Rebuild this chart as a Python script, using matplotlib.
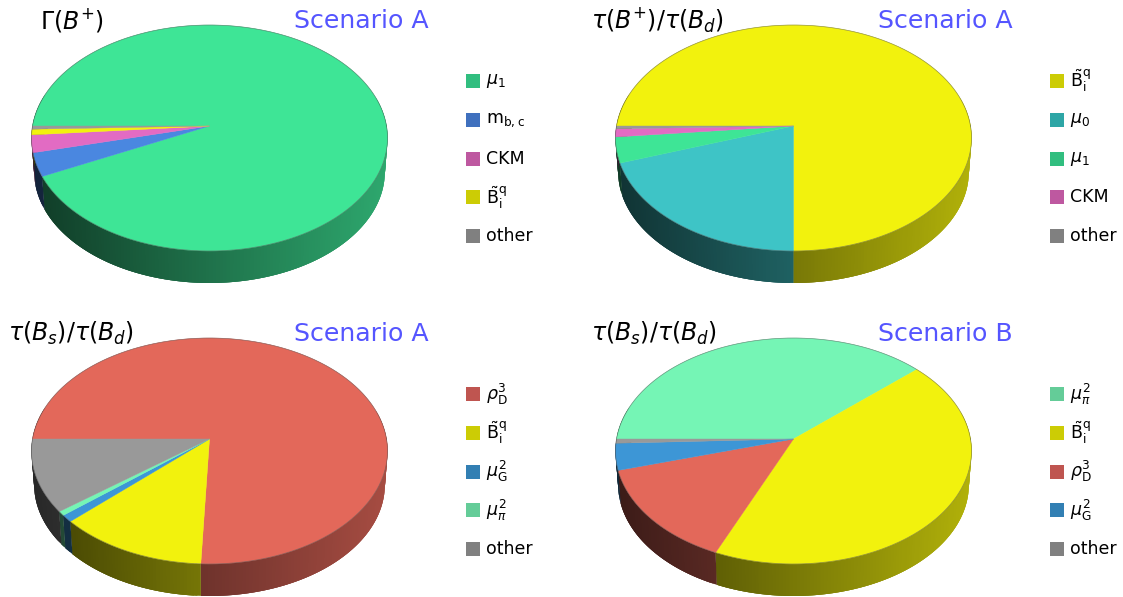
import numpy as np
import matplotlib.pyplot as plt
from matplotlib.patches import Polygon, Rectangle

plt.rcParams['mathtext.fontset'] = 'dejavusans'
plt.rcParams['font.family'] = 'DejaVu Sans'

# shares in percent, clockwise from 9 o'clock, same order as the legend
labels_a = [r'$\mu_1$', r'$\mathrm{m}_{\mathrm{b,c}}$', 'CKM', r'$\tilde{\mathrm{B}}_{\mathrm{i}}^{\mathrm{q}}$', 'other']
values_a = [92.9, 3.35, 2.5, 0.8, 0.45]
labels_b = [r'$\tilde{\mathrm{B}}_{\mathrm{i}}^{\mathrm{q}}$', r'$\mu_0$', r'$\mu_1$', 'CKM', 'other']
values_b = [75.0, 19.8, 3.65, 1.15, 0.4]
labels_c = [r'$\rho_{\mathrm{D}}^{3}$', r'$\tilde{\mathrm{B}}_{\mathrm{i}}^{\mathrm{q}}$', r'$\mu_{\mathrm{G}}^{2}$', r'$\mu_{\pi}^{2}$', 'other']
values_c = [75.7, 12.3, 1.0, 0.6, 10.4]
labels_d = [r'$\mu_{\pi}^{2}$', r'$\tilde{\mathrm{B}}_{\mathrm{i}}^{\mathrm{q}}$', r'$\rho_{\mathrm{D}}^{3}$', r'$\mu_{\mathrm{G}}^{2}$', 'other']
values_d = [38.4, 43.1, 14.1, 3.8, 0.6]

titles = [r'$\Gamma(B^{+})$', r'$\tau(B^{+})/\tau(B_d)$', r'$\tau(B_s)/\tau(B_d)$', r'$\tau(B_s)/\tau(B_d)$']
scenarios = ['Scenario A', 'Scenario A', 'Scenario A', 'Scenario B']

# top face colour, legend swatch colour
GREEN = ('#3EE596', '#31BE7F')
BLUE = ('#4A87E0', '#3F70BE')
PINK = ('#E26BC3', '#BE58A0')
YELLOW = ('#F2F20D', '#CCCC05')
GREY = ('#999999', '#808080')
TEAL = ('#3EC4C6', '#2EA6A6')
RED = ('#E3685A', '#BF5550')
MINT = ('#75F5B5', '#64CC98')
SKY = ('#3D96D6', '#327FB3')

colors_a = [GREEN, BLUE, PINK, YELLOW, GREY]
colors_b = [YELLOW, TEAL, GREEN, PINK, GREY]
colors_c = [RED, YELLOW, SKY, MINT, GREY]
colors_d = [MINT, YELLOW, RED, SKY, GREY]

# perspective of the disc, in pixels
A, B, K = 177.0, 111.7, 0.1062
DEPTH = 33.7
SHRINK = 0.985
CENTER_DROP = 12.0


def project(theta):
    u, v = np.cos(theta), np.sin(theta)
    return A * u / (1 + K * v), B * v / (1 + K * v)


def shade(color, t):
    rgb = np.array(plt.matplotlib.colors.to_rgb(color))
    return rgb * (0.26 + 0.47 * t)


def draw_pie(ax, cx, cy, values, colors):
    fracs = np.array(values) / sum(values)
    edges = np.pi - 2 * np.pi * np.concatenate([[0], np.cumsum(fracs)])
    for i, (col, _) in enumerate(colors):
        theta = np.linspace(edges[i], edges[i + 1], max(int(fracs[i] * 360), 4))
        x, y = project(theta)
        xw = cx + x
        yw = cy - y
        xb = cx + x * SHRINK
        yb = cy + CENTER_DROP + (-y - CENTER_DROP) * SHRINK + DEPTH
        # side wall, only the part facing the viewer; bands overlap the next ones
        for j in range(len(theta) - 1):
            if np.sin(theta[j]) > 0.25 and np.sin(theta[j + 1]) > 0.25:
                continue
            k = min(j + 4, len(theta))
            c = shade(col, (xw[j] - (cx - A)) / (2 * A))
            band = np.column_stack([np.r_[xw[j:k], xb[j:k][::-1]], np.r_[yw[j:k], yb[j:k][::-1]]])
            ax.add_patch(Polygon(band, closed=True, fc=c, ec='none', zorder=2))
    for i, (col, _) in enumerate(colors):
        theta = np.linspace(edges[i], edges[i + 1], max(int(fracs[i] * 720), 3))
        x, y = project(theta)
        pts = np.column_stack([np.r_[cx, cx + x], np.r_[cy, cy - y]])
        ax.add_patch(Polygon(pts, closed=True, fc=col, ec=col, lw=0.3, zorder=3))
    theta = np.linspace(0, 2 * np.pi, 721)
    x, y = project(theta)
    ax.plot(cx + x, cy - y, color='#555555', lw=0.5, alpha=0.6, zorder=4)


def draw_legend(ax, x0, y0, labels, colors):
    for i, lab in enumerate(labels):
        yc = y0 + i * 38.8
        ax.add_patch(Rectangle((x0, yc - 7), 14, 14, fc=colors[i][1], ec='none', zorder=3))
        ax.text(x0 + 20, yc, lab, fontsize=12.5, va='center', ha='left', color='black')


fig = plt.figure(figsize=(11.23, 5.97), dpi=100)
ax = fig.add_axes([0, 0, 1, 1])
ax.set_xlim(0, 1123)
ax.set_ylim(597, 0)
ax.axis('off')

panels = [
    (209.5, 126, values_a, colors_a, labels_a, 40, 294),
    (793.5, 126, values_b, colors_b, labels_b, 591, 878),
    (209.5, 439, values_c, colors_c, labels_c, 8, 294),
    (793.5, 439, values_d, colors_d, labels_d, 591, 878),
]
for n, (cx, cy, vals, cols, labs, tx, sx) in enumerate(panels):
    draw_pie(ax, cx, cy, vals, cols)
    draw_legend(ax, cx + 256.5, cy - 45, labs, cols)
    ax.text(tx, cy - 106, titles[n], fontsize=17, va='center', ha='left', color='black', zorder=5)
    ax.text(sx, cy - 105, scenarios[n], fontsize=18.2, va='center', ha='left', color='#5555FF', zorder=5)

fig.savefig('out.png', dpi=100)
